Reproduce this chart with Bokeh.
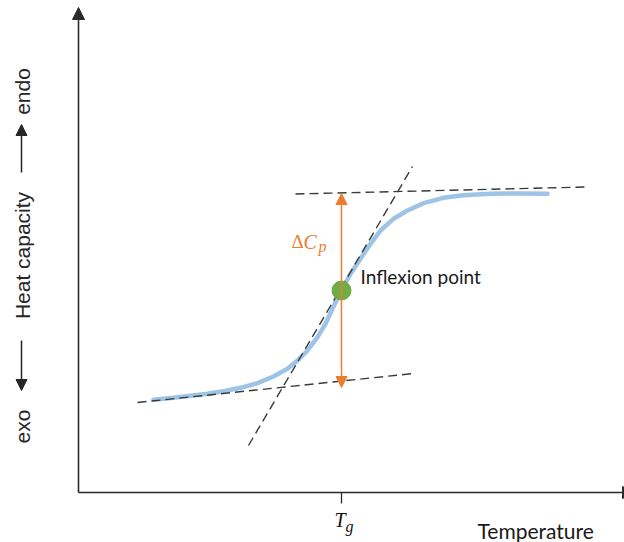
import numpy as np
from bokeh.plotting import figure
from bokeh.models import Range1d, Arrow, NormalHead
from bokeh.core.properties import value
from bokeh.embed import file_html
from bokeh.resources import INLINE

# ---- data (temperature units along x, heat-capacity units along y, schematic) ----
curve_T = [153, 173, 190, 207, 223, 240, 257, 273, 287, 297, 307, 317, 325, 333,
           341, 350, 360, 370, 380, 393, 407, 423, 443, 463, 490, 517, 547]
curve_Cp = [142.7, 144.7, 146.7, 148.7, 151.3, 154.7, 159.3, 166, 173.7, 182, 192,
            205.3, 218.7, 236, 252, 268.7, 283.7, 298.7, 312, 323.7, 332, 339.3,
            344.7, 347.3, 348.7, 349, 348.7]

lower_base_T = [137, 413]
lower_base_Cp = [140, 169]
upper_base_T = [295, 585]
upper_base_Cp = [348.5, 355.5]
tangent_T = [248, 412]
tangent_Cp = [97, 376]

Tg = 341
Cp_inflexion = 252
dCp_low, dCp_high = 155, 349

axis_origin = (78, 50)
axis_x_end = 634
axis_y_end = 535

p = figure(width=624, height=542, x_range=Range1d(0, 624), y_range=Range1d(0, 542),
           x_axis_type=None, y_axis_type=None, min_border=0,
           toolbar_location=None, output_backend="svg")
p.grid.visible = False
p.outline_line_color = None
p.background_fill_color = "white"
p.border_fill_color = "white"

axis_col = "#2b2b2b"
p.add_layout(Arrow(end=NormalHead(size=12, fill_color=axis_col, line_color=axis_col),
                   x_start=axis_origin[0], y_start=axis_origin[1],
                   x_end=axis_origin[0], y_end=axis_y_end,
                   line_color=axis_col, line_width=1.6))
p.add_layout(Arrow(end=NormalHead(size=12, fill_color=axis_col, line_color=axis_col),
                   x_start=axis_origin[0], y_start=axis_origin[1],
                   x_end=axis_x_end, y_end=axis_origin[1],
                   line_color=axis_col, line_width=1.6))
p.segment(x0=[Tg], y0=[axis_origin[1]], x1=[Tg], y1=[axis_origin[1] - 11],
          line_color=axis_col, line_width=1.3)

# sigmoid curve
p.line(curve_T, curve_Cp, line_color="#9DC3E6", line_width=4.5, line_cap="round",
       line_join="round")

# dashed construction lines
dash_col = "#3a3a3a"
for xs, ys in [(lower_base_T, lower_base_Cp), (upper_base_T, upper_base_Cp),
               (tangent_T, tangent_Cp)]:
    p.line(xs, ys, line_color=dash_col, line_width=1.4, line_dash="9 5")

# Delta Cp arrow
orange = "#ED7D31"
p.add_layout(Arrow(start=NormalHead(size=11, fill_color=orange, line_color=orange),
                   end=NormalHead(size=11, fill_color=orange, line_color=orange),
                   x_start=Tg, y_start=dCp_low, x_end=Tg, y_end=dCp_high,
                   line_color=orange, line_width=1.5))

# inflexion point
p.scatter([Tg], [Cp_inflexion], size=19, fill_color="#70AD47", line_color="#70AD47")

# texts
p.text(x=[360], y=[542 - 276], text=["Inflexion point"], text_font=value("Lato"),
       text_font_size="19px", text_color="#1a1a1a", text_baseline="alphabetic")
p.text(x=[477], y=[542 - 530], text=["Temperature"], text_font=value("Lato"),
       text_font_size="21px", text_color="#1a1a1a", text_baseline="alphabetic")

# T_g
p.text(x=[334], y=[542 - 519], text=["T"], text_font=value("Liberation Serif"),
       text_font_style="italic", text_font_size="20px", text_color="#111111",
       text_baseline="alphabetic")
p.text(x=[345], y=[542 - 526], text=["g"], text_font=value("Liberation Serif"),
       text_font_style="italic", text_font_size="16px", text_color="#111111",
       text_baseline="alphabetic")

# Delta C_p
p.text(x=[291], y=[542 - 241], text=["Δ"], text_font=value("Liberation Serif"),
       text_font_size="19px", text_color=orange, text_baseline="alphabetic")
p.text(x=[303], y=[542 - 241], text=["C"], text_font=value("Liberation Serif"),
       text_font_style="italic", text_font_size="20px", text_color=orange,
       text_baseline="alphabetic")
p.text(x=[318], y=[542 - 246], text=["p"], text_font=value("Liberation Serif"),
       text_font_style="italic", text_font_size="16px", text_color=orange,
       text_baseline="alphabetic")

# rotated y label
ylab_col = "#262626"
for txt, yc in [("endo", 542 - 91), ("Heat capacity", 542 - 255), ("exo", 542 - 426)]:
    p.text(x=[22], y=[yc], text=[txt], angle=np.pi / 2, text_font=value("Liberation Sans"),
           text_font_size="21px", text_color=ylab_col, text_align="center",
           text_baseline="alphabetic")
p.add_layout(Arrow(end=NormalHead(size=11, fill_color=ylab_col, line_color=ylab_col),
                   x_start=21, y_start=542 - 172, x_end=21, y_end=542 - 124,
                   line_color=ylab_col, line_width=1.5))
p.add_layout(Arrow(end=NormalHead(size=11, fill_color=ylab_col, line_color=ylab_col),
                   x_start=21, y_start=542 - 340, x_end=21, y_end=542 - 390,
                   line_color=ylab_col, line_width=1.5))

open("out.html", "w").write(file_html(p, INLINE))
